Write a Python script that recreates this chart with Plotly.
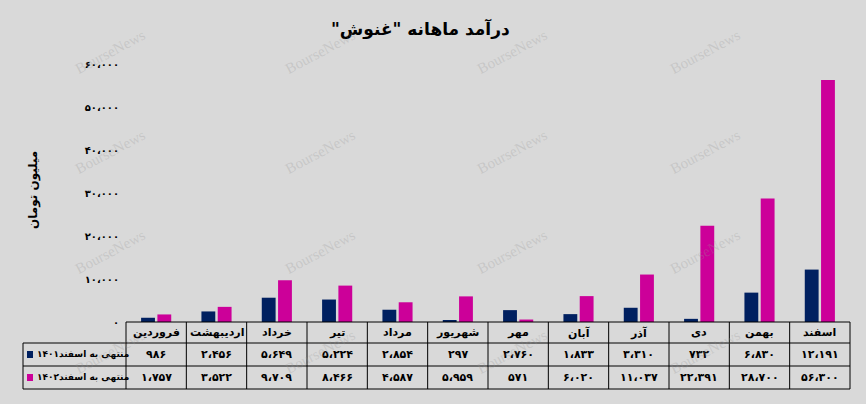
import plotly.graph_objects as go

# ---------------- data ----------------
months = ["فروردین", "اردیبهشت", "خرداد", "تیر", "مرداد", "شهریور",
          "مهر", "آبان", "آذر", "دی", "بهمن", "اسفند"]
rev_1401 = [986, 2456, 5649, 5224, 2854, 297, 2760, 1833, 3310, 732, 6830, 12191]
rev_1402 = [1757, 3522, 9709, 8466, 4587, 5959, 571, 6020, 11037, 22391, 28700, 56300]
series_names = ["منتهی به اسفند۱۴۰۱", "منتهی به اسفند۱۴۰۲"]
y_tick_values = [0, 10000, 20000, 30000, 40000, 50000, 60000]
chart_title = 'درآمد ماهانه "غنوش"\u200f'
y_title = "میلیون تومان"
watermark = "BourseNews"

# ---------------- helpers ----------------
FA = "۰۱۲۳۴۵۶۷۸۹"


def fa(n):
    s = f"{n:,}"
    return "".join(FA[int(c)] if c.isdigit() else ("،" if c == "," else c) for c in s)


W, H = 866, 404


def fx(px):
    return px / W


def fy(py):
    return (H - py) / H


colors = ["#002060", "#CC0099"]
bg = "#D9D9D9"
font_fam = "DejaVu Sans"

plot_left, plot_right = 126, 850
plot_top, plot_bottom = 64, 322

fig = go.Figure()
for name, vals, col in zip(series_names, [rev_1401, rev_1402], colors):
    fig.add_trace(go.Bar(x=months, y=vals, name=name, marker=dict(color=col, line=dict(width=0)),
                         showlegend=False))

fig.update_layout(
    width=W, height=H,
    margin=dict(l=0, r=0, t=0, b=0),
    paper_bgcolor=bg, plot_bgcolor=bg,
    barmode="group", bargap=0.46, bargroupgap=0.15,
    xaxis=dict(domain=[fx(plot_left), fx(plot_right)], range=[-0.5, len(months) - 0.5],
               showticklabels=False, showgrid=False, zeroline=False, showline=False,
               fixedrange=True),
    yaxis=dict(domain=[fy(plot_bottom), fy(plot_top)], range=[0, 60000],
               tickvals=y_tick_values, ticktext=["<b>" + fa(v) + "</b>" for v in y_tick_values],
               tickfont=dict(family=font_fam, size=10, color="black"),
               showgrid=False, zeroline=False, showline=False, ticks="",
               ticklabelstandoff=6, automargin=False),
    font=dict(family=font_fam, color="black"),
)

shapes = []
annotations = []


def note(text, px, py, size, family=font_fam, color="black", angle=0, xanchor="center"):
    annotations.append(dict(text=text, x=fx(px), y=fy(py), xref="paper", yref="paper",
                            xanchor=xanchor, yanchor="middle", textangle=angle, showarrow=False,
                            font=dict(size=size, family=family, color=color)))


# title
note("<b>" + chart_title + "</b>", 420, 29, 17)
# y title
note("<b>" + y_title + "</b>", 33, 190, 12, angle=-90)

# data table
n = len(months)
cw = (plot_right - plot_left) / n
row_edges = [322, 343, 366, 389]
label_left = 23
line = dict(color="black", width=1)
shapes.append(dict(type="line", xref="paper", yref="paper", x0=fx(plot_left), x1=fx(plot_right),
                   y0=fy(row_edges[0]), y1=fy(row_edges[0]), line=line))
for ry in row_edges[1:]:
    shapes.append(dict(type="line", xref="paper", yref="paper", x0=fx(label_left), x1=fx(plot_right),
                       y0=fy(ry), y1=fy(ry), line=line))
shapes.append(dict(type="line", xref="paper", yref="paper", x0=fx(label_left), x1=fx(label_left),
                   y0=fy(row_edges[1]), y1=fy(row_edges[3]), line=line))
for k in range(n + 1):
    xx = fx(plot_left + k * cw)
    shapes.append(dict(type="line", xref="paper", yref="paper", x0=xx, x1=xx,
                       y0=fy(row_edges[0]), y1=fy(row_edges[3]), line=line))

for i, m in enumerate(months):
    cx = plot_left + (i + 0.5) * cw
    note("<b>" + m + "</b>", cx, (row_edges[0] + row_edges[1]) / 2, 11)
    for r, vals in enumerate([rev_1401, rev_1402]):
        note("<b>" + fa(vals[i]) + "</b>", cx, (row_edges[r + 1] + row_edges[r + 2]) / 2, 11)

for r, (name, col) in enumerate(zip(series_names, colors)):
    cy = (row_edges[r + 1] + row_edges[r + 2]) / 2
    shapes.append(dict(type="rect", xref="paper", yref="paper", x0=fx(27), x1=fx(33),
                       y0=fy(cy + 3.5), y1=fy(cy - 3.5), fillcolor=col, line=dict(width=0)))
    note("<b>" + name + "</b>", 35, cy, 9, xanchor="left")

# watermarks
for wx in [110, 320, 512, 705]:
    for wy in [52, 152, 252, 352]:
        note(watermark, wx, wy, 15, family="Liberation Serif", color="rgba(150,150,150,0.28)", angle=-28)

fig.update_layout(shapes=shapes, annotations=annotations)
fig.write_html("out.html", config={"displayModeBar": False},
               post_script="document.body.style.margin='0';document.body.style.background='#D9D9D9';")
